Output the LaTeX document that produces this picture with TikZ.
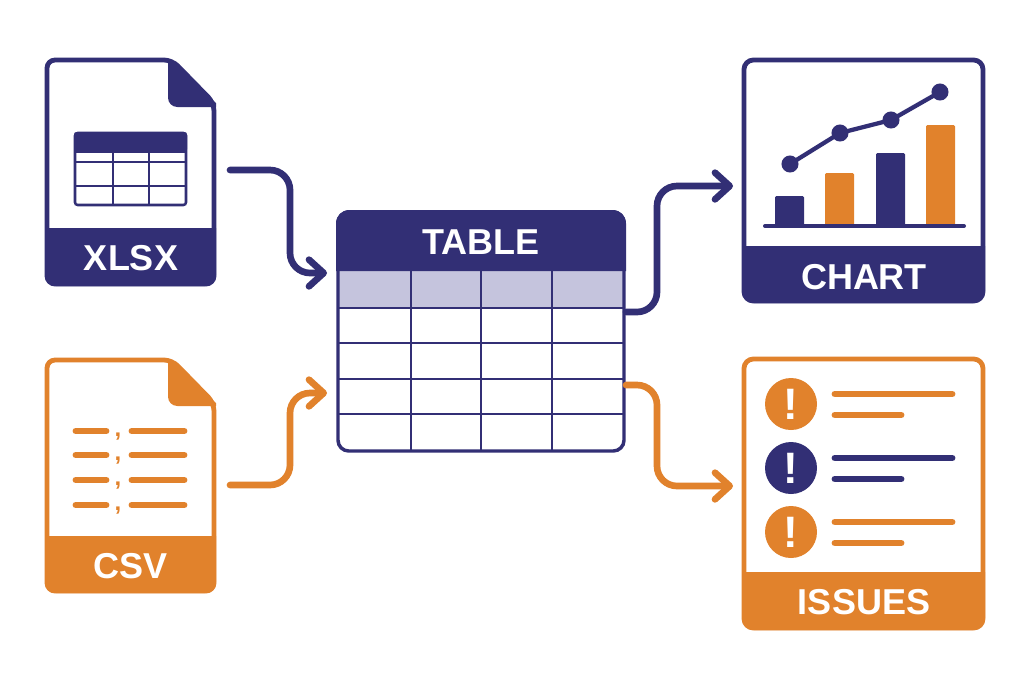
\documentclass[tikz,border=0pt]{standalone}
\usepackage{fontspec}
\setmainfont{Liberation Sans}
\usetikzlibrary{arrows.meta}
\definecolor{navy}{HTML}{322F75}
\definecolor{amber}{HTML}{E1822C}
\definecolor{lilac}{HTML}{C5C4DD}
\tikzset{
	outline/.style={line width=3.6pt, line join=round},
	cardlabel/.style={anchor=center, inner sep=0pt, text=white, font=\fontsize{27}{27}\selectfont\bfseries},
	flow/.style={line width=5pt, rounded corners=15pt, line cap=round, -{Straight Barb[length=11pt,width=20pt,round]}},
	textbar/.style={line width=5.2pt, line cap=round},
	gridline/.style={line width=1.9pt, color=navy},
	warndot/.style={circle, minimum size=39pt, inner sep=0pt, text=white, font=\fontsize{33}{33}\selectfont\bfseries},
	comma/.style={anchor=center, inner sep=0pt, text=amber, font=\fontsize{18}{18}\selectfont\bfseries},
}
\begin{document}
\begin{tikzpicture}[x=0.75pt, y=-0.75pt]
	
	\useasboundingbox (0,0) rectangle (1024,683);
	\fill[white] (0,0) rectangle (1024,683);
	
	%xlsx file
	\draw[outline, color=navy, rounded corners=6pt] (47,60) -- (172,60) -- (214,103) -- (214,284) -- (47,284) -- cycle;
	\fill[navy] (168,60) -- (172,60) -- (216,103) -- (216,107) [rounded corners=7pt] -- (168,107) [sharp corners] -- cycle;
	\fill[navy] (45,228) -- (216,228) [rounded corners=8pt] -- (216,286) -- (45,286) [sharp corners] -- cycle;
	\node[cardlabel] (xlsxlabel) at (131,258) {XLSX};
	\coordinate (xlsxout) at (230,170);
	
	%small table in the xlsx file
	\draw[gridline, rounded corners=2pt] (75,133) rectangle (186,205);
	\fill[navy, rounded corners=2pt] (74,132) rectangle (187,152);
	\fill[navy] (74,142) rectangle (187,153);
	\foreach \y in {162,186}
		\draw[gridline] (75,\y) -- (186,\y);
	\foreach \x in {113,149}
		\draw[gridline] (\x,152) -- (\x,205);
	
	%csv file
	\draw[outline, color=amber, rounded corners=6pt] (47,360) -- (172,360) -- (214,403) -- (214,591) -- (47,591) -- cycle;
	\fill[amber] (168,360) -- (172,360) -- (216,403) -- (216,406) [rounded corners=7pt] -- (168,406) [sharp corners] -- cycle;
	\fill[amber] (45,536) -- (216,536) [rounded corners=8pt] -- (216,593) -- (45,593) [sharp corners] -- cycle;
	\node[cardlabel] (csvlabel) at (131,566) {CSV};
	\coordinate (csvout) at (230,485);
	
	%csv rows with their commas
	\foreach \y/\n in {431/a,455/b,480/c,505/d} {
		\draw[textbar, color=amber] (76,\y) -- (106,\y);
		\draw[textbar, color=amber] (132,\y) -- (184,\y);
		\node[comma] (comma\n) at (118,\y+6) {,};
	}
	
	%table
	\fill[lilac] (338,271) rectangle (624,308);
	\draw[line width=2.6pt, color=navy, rounded corners=8pt] (338,212) rectangle (624,451);
	\fill[navy] (336,271) [rounded corners=10pt] -- (336,210) -- (626,210) [sharp corners] -- (626,271) -- cycle;
	\foreach \y in {308,343,379,414}
		\draw[gridline] (337,\y) -- (625,\y);
	\foreach \x in {411,481,552}
		\draw[gridline] (\x,271) -- (\x,452);
	\node[cardlabel] (tablelabel) at (481,242) {TABLE};
	\coordinate (tablexlsx) at (327,273);
	\coordinate (tablecsv) at (327,393);
	\coordinate (tablechart) at (626,312);
	\coordinate (tableissues) at (626,385);
	
	%chart card
	\draw[outline, color=navy, rounded corners=7pt] (744,60) rectangle (983,301);
	\fill[navy] (742,246) -- (985,246) [rounded corners=9pt] -- (985,303) -- (742,303) [sharp corners] -- cycle;
	\node[cardlabel] (chartlabel) at (864,277) {CHART};
	\coordinate (chartin) at (733,186);
	
	%bars and trend line
	\foreach \x/\w/\c in {775/196/navy,825/173/amber,876/153/navy,926/125/amber}
		\fill[\c, rounded corners=1pt] (\x,\w) rectangle (\x+29,226);
	\draw[line width=3pt, color=navy, line cap=round] (765,226) -- (964,226);
	\draw[line width=3.2pt, color=navy] (790,164) -- (840,133) -- (891,120) -- (940,92);
	\foreach \x/\y in {790/164,840/133,891/120,940/92}
		\fill[navy] (\x,\y) circle (6.4pt);
	
	%issues card
	\draw[outline, color=amber, rounded corners=7pt] (744,359) rectangle (983,628);
	\fill[amber] (742,572) -- (985,572) [rounded corners=9pt] -- (985,630) -- (742,630) [sharp corners] -- cycle;
	\node[cardlabel] (issueslabel) at (864,602) {ISSUES};
	\coordinate (issuesin) at (733,486);
	
	%warnings and their text lines
	\foreach \y/\c/\n in {404/amber/a,468/navy/b,532/amber/c} {
		\node[warndot, fill=\c] (warn\n) at (791,\y) {!};
		\draw[textbar, color=\c] (835,\y-10) -- (952,\y-10);
		\draw[textbar, color=\c] (835,\y+11) -- (901,\y+11);
	}
	
	%connectors
	\coordinate (xlsxbend) at (290,220);
	\coordinate (csvbend) at (290,440);
	\coordinate (chartbend) at (657,250);
	\coordinate (issuesbend) at (657,430);
	\draw[flow, color=navy] (xlsxout) -| (xlsxbend) |- (tablexlsx);
	\draw[flow, color=amber] (csvout) -| (csvbend) |- (tablecsv);
	\draw[flow, color=navy] (tablechart) -| (chartbend) |- (chartin);
	\draw[flow, color=amber] (tableissues) -| (issuesbend) |- (issuesin);
	
\end{tikzpicture}
\end{document}
